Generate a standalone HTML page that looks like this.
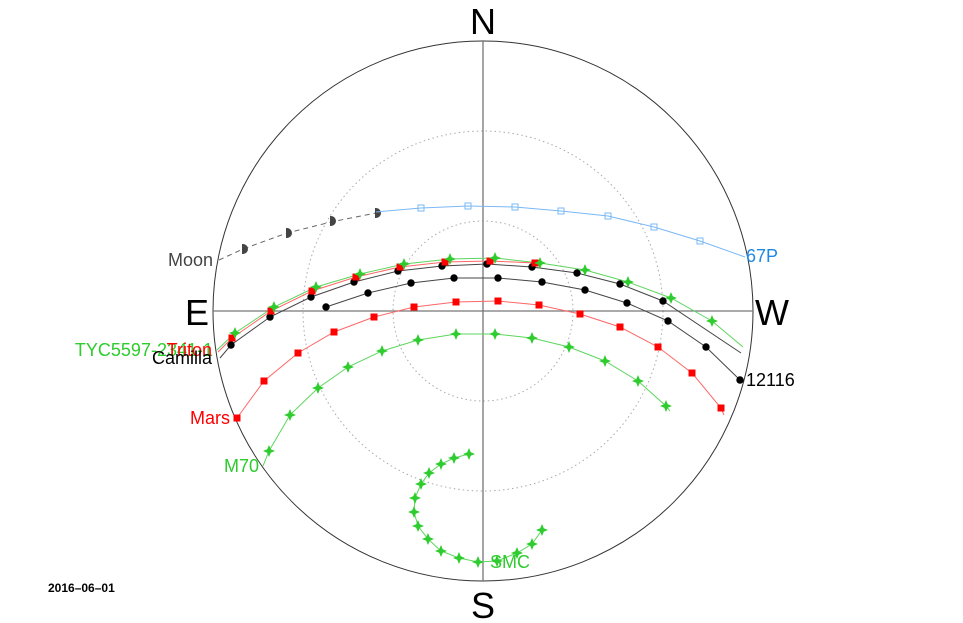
<!DOCTYPE html>
<html><head><meta charset="utf-8"><style>
html,body{margin:0;padding:0;background:#fff;}
svg{display:block;font-family:"Liberation Sans",sans-serif;}
</style></head><body>
<svg width="963" height="623" viewBox="0 0 963 623" xmlns="http://www.w3.org/2000/svg">
<defs>
<path id="st" d="M0,-6 L1.8,-1.8 L6,0 L1.8,1.8 L0,6 L-1.8,1.8 L-6,0 L-1.8,-1.8Z" fill="#2ecc2e"/>
<rect id="rq" x="-3.5" y="-3.5" width="7" height="7" fill="#ff0000"/>
<circle id="bd" r="3.7" fill="#000"/>
<rect id="bq" x="-3" y="-3" width="6" height="6" fill="none" stroke="#7ab8f5" stroke-width="1"/>
<path id="mn" d="M0,-5 A5,5 0 0 1 0,5 Z M0,-5 L-1,-5 L-1,5 L0,5" fill="#444"/>
</defs>
<circle cx="483" cy="311" r="270" fill="none" stroke="#333" stroke-width="1"/>
<circle cx="483" cy="311" r="180" fill="none" stroke="#aaa" stroke-width="1" stroke-dasharray="1.5,3"/>
<circle cx="483" cy="311" r="90" fill="none" stroke="#aaa" stroke-width="1" stroke-dasharray="1.5,3"/>
<line x1="483" y1="41" x2="483" y2="581" stroke="#777" stroke-width="1.3"/>
<line x1="213" y1="311" x2="753" y2="311" stroke="#777" stroke-width="1.3"/>
<g font-size="36" fill="#000" text-anchor="middle">
<text x="483" y="34">N</text><text x="483" y="618">S</text>
<text x="197" y="325">E</text><text x="772" y="325">W</text>
</g>
<polyline points="219,260 243,249 287,233 331,222 376,213" fill="none" stroke="#666" stroke-dasharray="5,4"/>
<g><use href="#mn" x="243" y="249"/><use href="#mn" x="287" y="233"/><use href="#mn" x="331" y="221"/><use href="#mn" x="376" y="213"/></g>
<polyline points="376,212 421,208 468,206 515,207 561,211 608,216 654,227 700,241 745,257" fill="none" stroke="#7ab8f5"/>
<g><use href="#bq" x="421" y="208"/><use href="#bq" x="468" y="206"/><use href="#bq" x="515" y="207"/><use href="#bq" x="561" y="211"/><use href="#bq" x="608" y="216"/><use href="#bq" x="654" y="227"/><use href="#bq" x="700" y="241"/></g>
<polyline points="217,350 235,333 274,307 316,287 360,274 404,264 450,259 495,258 540,263 585,270 628,282 671,298 712,321 743,347" fill="none" stroke="#5cd65c"/>
<polyline points="218,352 232,338 271,311 312,291 356,277 400,267 445,262 490,261 535,263" fill="none" stroke="#ff6666"/>
<polyline points="220,358 231,345 270,317 311,297 354,282 398,271 442,266 487,264 532,267 577,273 620,284 663,301 741,353" fill="none" stroke="#444"/>
<polyline points="326,307 368,293 411,283 454,278 498,278 542,282 585,290 627,303 668,321 706,347 740,380" fill="none" stroke="#444"/>
<polyline points="237,418 264,381 298,353 334,332 374,317 414,307 456,302 498,301 539,305 580,314 620,327 658,347 692,373 721,408 724,415" fill="none" stroke="#ff6666"/>
<polyline points="263,466 269,451 290,415 318,388 348,367 382,351 418,340 456,334 495,334 532,338 569,347 605,361 638,381 666,406 670,411" fill="none" stroke="#5cd65c"/>
<polyline points="469,454 454,458 441,464 429,473 421,484 415,498 414,512 418,526 428,539 441,551 459,558 478,562 497,561 517,553 532,544 542,530" fill="none" stroke="#5cd65c"/>
<g>
<use href="#bd" x="231" y="345"/><use href="#bd" x="270" y="317"/><use href="#bd" x="311" y="297"/><use href="#bd" x="354" y="282"/><use href="#bd" x="398" y="271"/><use href="#bd" x="442" y="266"/><use href="#bd" x="487" y="264"/><use href="#bd" x="532" y="267"/><use href="#bd" x="577" y="273"/><use href="#bd" x="620" y="284"/><use href="#bd" x="663" y="301"/>
<use href="#bd" x="326" y="307"/><use href="#bd" x="368" y="293"/><use href="#bd" x="411" y="283"/><use href="#bd" x="454" y="278"/><use href="#bd" x="498" y="278"/><use href="#bd" x="542" y="282"/><use href="#bd" x="585" y="290"/><use href="#bd" x="627" y="303"/><use href="#bd" x="668" y="321"/><use href="#bd" x="706" y="347"/><use href="#bd" x="740" y="380"/>
</g>
<g>
<use href="#rq" x="232" y="338"/><use href="#rq" x="271" y="311"/><use href="#rq" x="312" y="291"/><use href="#rq" x="356" y="277"/><use href="#rq" x="400" y="267"/><use href="#rq" x="445" y="262"/><use href="#rq" x="490" y="261"/><use href="#rq" x="535" y="263"/>
<use href="#rq" x="237" y="418"/><use href="#rq" x="264" y="381"/><use href="#rq" x="298" y="353"/><use href="#rq" x="334" y="332"/><use href="#rq" x="374" y="317"/><use href="#rq" x="414" y="307"/><use href="#rq" x="456" y="302"/><use href="#rq" x="498" y="301"/><use href="#rq" x="539" y="305"/><use href="#rq" x="580" y="314"/><use href="#rq" x="620" y="327"/><use href="#rq" x="658" y="347"/><use href="#rq" x="692" y="373"/><use href="#rq" x="721" y="408"/>
</g>
<g>
<use href="#st" x="235" y="333"/><use href="#st" x="274" y="307"/><use href="#st" x="316" y="287"/><use href="#st" x="360" y="274"/><use href="#st" x="404" y="264"/><use href="#st" x="450" y="259"/><use href="#st" x="495" y="258"/><use href="#st" x="540" y="263"/><use href="#st" x="585" y="270"/><use href="#st" x="628" y="282"/><use href="#st" x="671" y="298"/><use href="#st" x="712" y="321"/>
<use href="#st" x="269" y="451"/><use href="#st" x="290" y="415"/><use href="#st" x="318" y="388"/><use href="#st" x="348" y="367"/><use href="#st" x="382" y="351"/><use href="#st" x="418" y="340"/><use href="#st" x="456" y="334"/><use href="#st" x="495" y="334"/><use href="#st" x="532" y="338"/><use href="#st" x="569" y="347"/><use href="#st" x="605" y="361"/><use href="#st" x="638" y="381"/><use href="#st" x="666" y="406"/>
<use href="#st" x="469" y="454"/><use href="#st" x="454" y="458"/><use href="#st" x="441" y="464"/><use href="#st" x="429" y="473"/><use href="#st" x="421" y="484"/><use href="#st" x="415" y="498"/><use href="#st" x="414" y="512"/><use href="#st" x="418" y="526"/><use href="#st" x="428" y="539"/><use href="#st" x="441" y="551"/><use href="#st" x="459" y="558"/><use href="#st" x="478" y="562"/><use href="#st" x="497" y="561"/><use href="#st" x="517" y="553"/><use href="#st" x="532" y="544"/><use href="#st" x="542" y="530"/>
</g>
<g font-size="18">
<text x="213" y="266" text-anchor="end" fill="#444">Moon</text>
<text x="746" y="262" fill="#1e88e5">67P</text>
<text x="746" y="386" fill="#000">12116</text>
<text x="213" y="356" text-anchor="end" fill="#2ecc2e">TYC5597-2341-1</text>
<text x="212" y="356" text-anchor="end" fill="#ff0000">Triton</text>
<text x="212" y="364" text-anchor="end" fill="#000">Camilla</text>
<text x="230" y="424" text-anchor="end" fill="#ff0000">Mars</text>
<text x="259" y="472" text-anchor="end" fill="#2ecc2e">M70</text>
<text x="490" y="568" fill="#2ecc2e">SMC</text>
</g>
<text x="48" y="592" font-size="12" fill="#000" font-weight="bold">2016–06–01</text>
</svg>
</body></html>
